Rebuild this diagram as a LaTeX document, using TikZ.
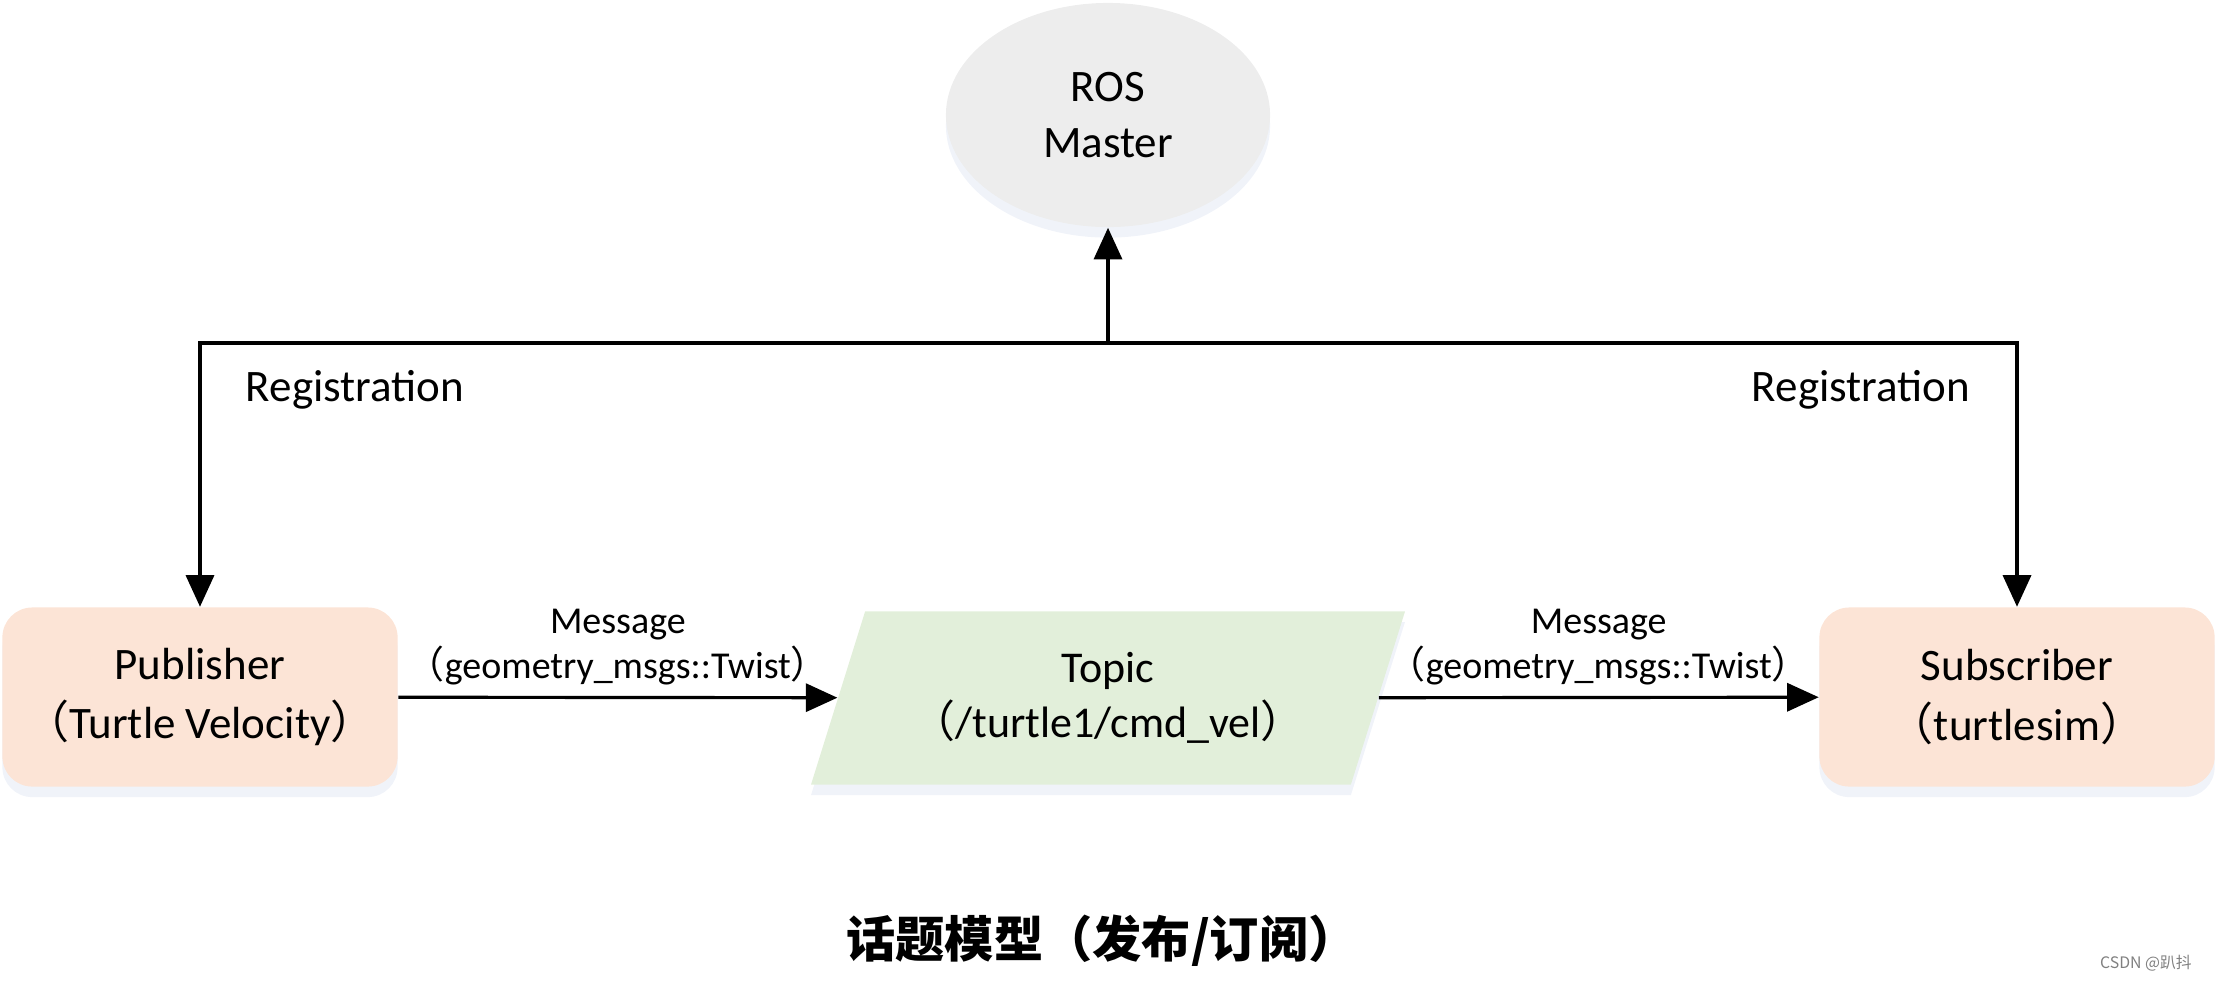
\documentclass[tikz,border=0pt]{standalone}
\usepackage{fontspec}
\setmainfont{Carlito}
\newfontfamily\cjk{Noto Sans CJK SC}
\usetikzlibrary{shapes.geometric,arrows.meta,positioning,shadows}
\definecolor{masterfill}{RGB}{237,237,237}
\definecolor{nodefill}{RGB}{252,228,214}
\definecolor{topicfill}{RGB}{226,239,218}
\definecolor{shadowblue}{RGB}{205,216,236}
\newcommand\lp{{\cjk （}}
\newcommand\rp{{\cjk ）}}
\tikzset{
  softshadow/.style={drop shadow={shadow xshift=0pt,shadow yshift=-3pt,opacity=.3,fill=shadowblue}},
  master/.style={ellipse, fill=masterfill, minimum width=3.24cm, minimum height=2.24cm,
    softshadow, align=center, font=\fontsize{12.8}{16}\selectfont},
  client/.style={rectangle, rounded corners=8.5pt, fill=nodefill, minimum width=3.95cm,
    minimum height=1.79cm, softshadow, align=center, font=\fontsize{12.8}{17}\selectfont},
  topic/.style={trapezium, trapezium left angle=69, trapezium right angle=111,
    trapezium stretches=true, inner xsep=0pt,
    fill=topicfill, minimum width=5.94cm, minimum height=1.73cm, softshadow,
    align=center, font=\fontsize{12.5}{15.5}\selectfont},
  flow/.style={-{Triangle[width=8pt,length=9pt]}, line width=0.9pt},
  msg/.style={font=\fontsize{10.8}{12.8}\selectfont, align=center, inner sep=3pt},
  reg/.style={font=\fontsize{12.8}{16}\selectfont},
}
\begin{document}
\begin{tikzpicture}[x=0.01cm,y=-0.01cm]
\useasboundingbox (0,0) rectangle (2230,981);
% nodes
\node[master] (master) at (1108,115) {ROS\\Master};
\node[client] (pub) at (200,697) {Publisher\\\lp Turtle Velocity\rp};
\node[client] (sub) at (2017,697) {Subscriber\\\lp turtlesim\rp};
\node[topic] (topic) at (1108,698) {Topic\\\lp/turtle1/cmd\_vel\rp};
% registration
\coordinate (jn) at (master.south |- 0,343);
\draw[flow] (jn) -- (master);
\draw[flow] (jn) -| (pub);
\draw[flow] (jn) -| (sub);
\node[reg] (regl) at (355,390) {Registration};
\node[reg] (regr) at (1861,390) {Registration};
% messages
\draw[flow] (pub) -- node[msg, above] (msgl) {Message\\\lp geometry\_msgs::Twist\rp} (topic);
\draw[flow] (topic) -- node[msg, above] (msgr) {Message\\\lp geometry\_msgs::Twist\rp} (sub);
% caption
\node[font=\cjk\bfseries\fontsize{14}{16}\selectfont] (title) at (1102,941) {话题模型（发布/订阅）};
\node[font=\cjk\fontsize{4.5}{5}\selectfont, text=gray] (mark) at (2146,963) {CSDN @趴抖};
\end{tikzpicture}
\end{document}
